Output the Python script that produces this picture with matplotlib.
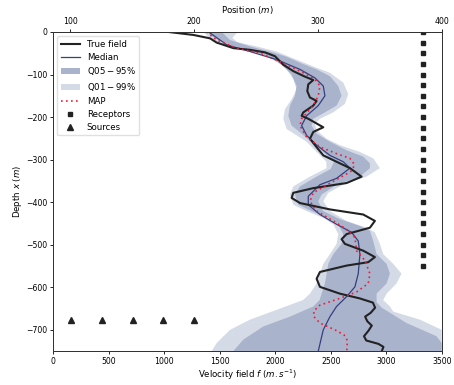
import numpy as np
import matplotlib
matplotlib.use("Agg")
import matplotlib.pyplot as plt
from matplotlib.lines import Line2D
from matplotlib.patches import Patch

# true velocity profile (velocity, depth)
true_v = [1038, 1263, 1413, 1473, 1623, 1773, 1908, 1998, 2073, 2163, 2268, 2343,
          2298, 2289, 2313, 2373, 2343, 2253, 2238, 2298, 2433, 2343, 2313, 2358,
          2433, 2553, 2673, 2778, 2643, 2343, 2163, 2148, 2223, 2493, 2793, 2898,
          2853, 2643, 2598, 2628, 2793, 2898, 2838, 2643, 2403, 2373, 2403, 2583,
          2760, 2880, 2900, 2860, 2810, 2830, 2870, 2840, 2800, 2820, 2930, 2975, 2960]
true_d = [0, -7, -15, -25, -38, -42, -48, -57, -77, -92, -105, -113,
          -123, -139, -154, -162, -173, -189, -197, -204, -224, -235, -251, -266,
          -290, -305, -320, -340, -355, -367, -378, -390, -402, -417, -429, -444,
          -460, -475, -487, -498, -514, -529, -541, -549, -564, -580, -599, -615,
          -626, -636, -648, -660, -669, -680, -690, -702, -715, -725, -733, -740, -750]

# posterior median
med_v = [1400, 1563, 1773, 2013, 2223, 2358, 2433, 2448, 2388, 2283, 2238, 2283,
         2373, 2493, 2613, 2673, 2553, 2403, 2298, 2298, 2403, 2553, 2688, 2748,
         2763, 2748, 2718, 2643, 2553, 2493, 2433, 2388]
med_d = [0, -30, -46, -65, -88, -108, -127, -150, -173, -197, -220, -243,
         -266, -290, -305, -320, -344, -359, -386, -406, -429, -452, -471, -491,
         -522, -568, -599, -622, -645, -669, -700, -750]

# maximum a posteriori
map_v = [1380, 1473, 1653, 1863, 2073, 2253, 2358, 2403, 2388, 2343, 2238, 2223,
         2283, 2403, 2553, 2673, 2715, 2690, 2628, 2523, 2343, 2313, 2373, 2523,
         2643, 2718, 2733, 2808, 2853, 2838, 2733, 2583, 2403, 2350, 2345, 2403,
         2538, 2620, 2650, 2645]
map_d = [0, -19, -38, -50, -73, -96, -111, -127, -150, -173, -204, -220,
         -247, -270, -286, -297, -312, -326, -336, -351, -378, -398, -421, -444,
         -464, -483, -514, -537, -568, -591, -611, -626, -642, -655, -668, -684,
         -700, -712, -725, -750]

# 5% quantile
q05_v = [1383, 1458, 1593, 1773, 1923, 2058, 2148, 2193, 2178, 2133, 2118, 2148,
         2238, 2343, 2433, 2530, 2500, 2373, 2223, 2178, 2208, 2328, 2478, 2568,
         2613, 2598, 2523, 2478, 2463, 2448, 2418, 2400, 2343, 2133, 1893, 1713, 1623]
q05_d = [0, -15, -30, -43, -56, -77, -100, -127, -150, -173, -197, -220,
         -239, -262, -282, -305, -322, -340, -363, -382, -406, -421, -437, -452,
         -475, -498, -522, -545, -568, -591, -615, -630, -645, -669, -692, -723, -750]

# 95% quantile
q95_v = [1518, 1593, 1773, 1953, 2100, 2220, 2373, 2493, 2568, 2598, 2553, 2448,
         2343, 2328, 2373, 2493, 2643, 2793, 2853, 2853, 2763, 2553, 2418, 2388,
         2433, 2583, 2763, 2853, 2883, 2913, 3003, 3033, 3003, 2913, 2913, 2960,
         3183, 3453, 3500, 3500]
q95_d = [0, -19, -34, -46, -58, -72, -88, -104, -127, -150, -173, -189,
         -204, -220, -239, -258, -278, -293, -309, -320, -340, -359, -382, -398,
         -421, -440, -456, -467, -491, -522, -545, -568, -591, -615, -635, -648,
         -684, -715, -731, -750]

# 1% quantile
q01_v = [1353, 1413, 1533, 1713, 1893, 2013, 2103, 2163, 2193, 2148, 2088, 2073,
         2103, 2193, 2283, 2373, 2460, 2463, 2313, 2163, 2133, 2163, 2283, 2433,
         2523, 2568, 2553, 2493, 2433, 2403, 2373, 2313, 2250, 2013, 1773, 1593,
         1473, 1428]
q01_d = [0, -15, -30, -42, -53, -69, -88, -111, -135, -158, -181, -204,
         -228, -243, -258, -282, -305, -320, -340, -363, -382, -406, -421, -437,
         -452, -475, -498, -522, -545, -568, -591, -615, -630, -653, -676, -700,
         -731, -750]

# 99% quantile
q99_v = [1670, 1640, 1615, 1660, 1833, 2013, 2163, 2343, 2493, 2613, 2658, 2628,
         2523, 2403, 2358, 2373, 2463, 2583, 2763, 2883, 2943, 2823, 2613, 2478,
         2433, 2493, 2643, 2823, 2898, 2943, 2973, 3063, 3138, 3093, 3003, 2973,
         3033, 3063, 3303, 3500, 3500]
q99_d = [0, -6, -14, -24, -34, -46, -62, -81, -96, -119, -146, -169,
         -189, -204, -216, -231, -251, -266, -282, -297, -320, -340, -359, -378,
         -398, -421, -444, -460, -471, -498, -522, -545, -568, -591, -615, -630,
         -645, -657, -676, -700, -750]

receiver_depth = np.arange(0, -551, -25)
receiver_v = 3333
source_v = [159, 438, 717, 993, 1269]
source_depth = -677

fig = plt.figure(figsize=(4.54, 3.85), dpi=100)
ax = fig.add_axes([0.117, 0.088, 0.856, 0.829])

light = "#d4dbe6"
dark = "#a9b3cc"
ax.fill(np.r_[q01_v, q99_v[::-1]], np.r_[q01_d, q99_d[::-1]], color=light, lw=0, zorder=1)
ax.fill(np.r_[q05_v, q95_v[::-1]], np.r_[q05_d, q95_d[::-1]], color=dark, lw=0, zorder=2)
ax.plot(true_v, true_d, color="#222222", lw=1.5, zorder=4)
ax.plot(med_v, med_d, color="#34407f", lw=0.9, zorder=3)
ax.plot(map_v, map_d, color="#ee1c36", lw=1.2, ls=(0, (1, 2)), zorder=5)
ax.plot(np.full(len(receiver_depth), receiver_v), receiver_depth, "s", color="#222222", ms=3, zorder=6)
ax.plot(source_v, [source_depth] * len(source_v), "^", color="#222222", ms=4, zorder=6)

ax.set_xlim(0, 3500)
ax.set_ylim(-750, 0)
ax.set_xlabel("Velocity field $f$ ($m.s^{-1}$)", fontsize=6.2, labelpad=1.5)
ax.set_ylabel("Depth $x$ ($m$)", fontsize=6.2, labelpad=2)
ax.tick_params(labelsize=5.6, length=2.5, width=0.6, pad=1.5)
for s in ax.spines.values():
    s.set_linewidth(0.7)
    s.set_color("#333333")

# receivers position along the top
ax2 = ax.twiny()
ax2.set_xlim(86, 400)
ax2.set_xticks([100, 200, 300, 400])
ax2.set_xlabel("Position ($m$)", fontsize=6.2, labelpad=3)
ax2.tick_params(labelsize=5.6, length=2.5, width=0.6, pad=1.5)
for s in ax2.spines.values():
    s.set_linewidth(0.7)
    s.set_color("#333333")

handles = [
    Line2D([], [], color="#222222", lw=1.5),
    Line2D([], [], color="#34407f", lw=0.9),
    Patch(facecolor=dark),
    Patch(facecolor=light),
    Line2D([], [], color="#ee1c36", lw=1.2, ls=(0, (1, 2))),
    Line2D([], [], marker="s", color="#222222", ls="", ms=3),
    Line2D([], [], marker="^", color="#222222", ls="", ms=4),
]
labels = ["True field", "Median", r"$\mathrm{Q05-95\%}$", r"$\mathrm{Q01-99\%}$",
          "MAP", "Receptors", "Sources"]
ax.legend(handles, labels, loc="upper left", fontsize=6.2, handlelength=2.2,
          borderpad=0.4, labelspacing=0.45, framealpha=0.9, edgecolor="#dddddd")

fig.savefig("out.png", dpi=100)
